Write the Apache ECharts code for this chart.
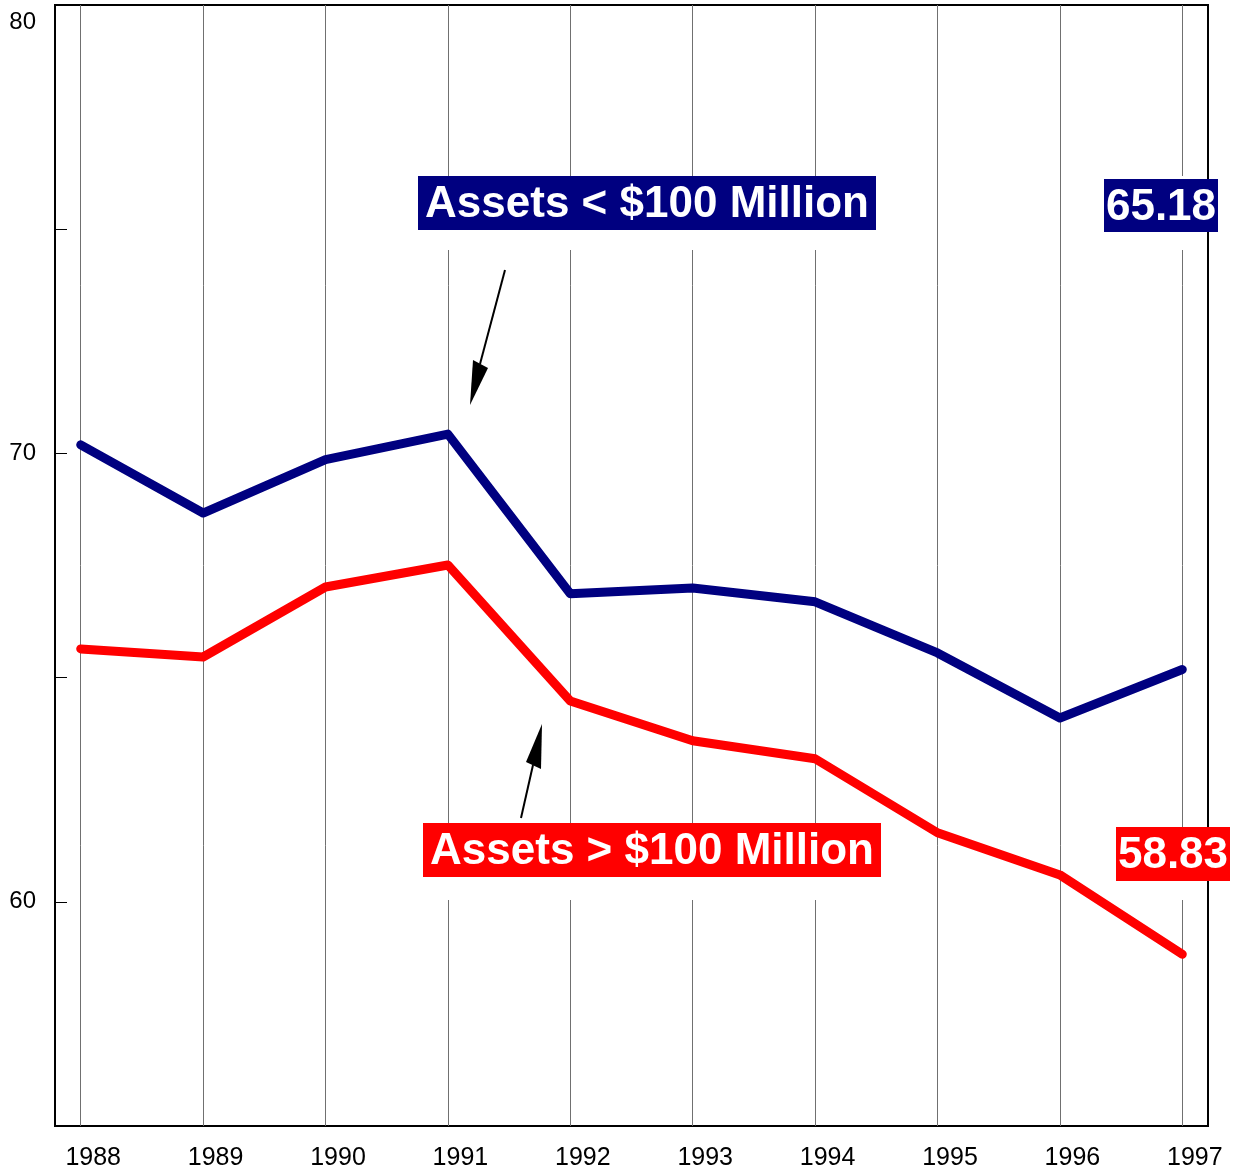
<!DOCTYPE html>
<html>
<head>
<meta charset="utf-8">
<style>
  html, body { margin: 0; padding: 0; background: #fff; }
  #main { width: 1242px; height: 1175px; }
</style>
<script src="https://cdn.jsdelivr.net/npm/echarts@6/dist/echarts.min.js"></script>
</head>
<body>
<div id="main"></div>
<script>
// years on the x axis
var years = [1988, 1989, 1990, 1991, 1992, 1993, 1994, 1995, 1996, 1997];
// assets < $100 million (navy)
var smallBanks = [70.19, 68.67, 69.86, 70.43, 66.87, 67.0, 66.69, 65.55, 64.1, 65.18];
// assets > $100 million (red)
var largeBanks = [65.64, 65.46, 67.02, 67.51, 64.48, 63.59, 63.19, 61.54, 60.6, 58.83];
var yLabels = [60, 70, 80];

var chart = echarts.init(document.getElementById('main'));

function pairs(vals) {
  var out = [];
  for (var i = 0; i < years.length; i++) out.push([years[i], vals[i]]);
  return out;
}

var gridLines = years.map(function (y) { return { xAxis: y }; });

// annotation box: background rect + white bold text
function tag(x, y, w, h, color, text) {
  return {
    type: 'group', x: x, y: y, z: 6,
    children: [
      { type: 'rect', shape: { x: 0, y: 0, width: w, height: h }, style: { fill: color }, z: 6 },
      { type: 'text', x: w / 2, y: h / 2 + 2, z: 7,
        style: { text: text, fill: '#fff', font: 'bold 44px "Liberation Sans", Arial, sans-serif',
                 align: 'center', verticalAlign: 'middle' } }
    ]
  };
}

// white patches that break the vertical lines behind labels
function gap(x, y, w, h) {
  return { type: 'rect', z: 2, shape: { x: x, y: y, width: w, height: h }, style: { fill: '#fff' } };
}

chart.setOption({
  animation: false,
  backgroundColor: '#fff',
  grid: { left: 55, right: 34, top: 5, bottom: 49, show: true, borderColor: '#000', borderWidth: 2 },
  xAxis: {
    type: 'value',
    min: 1987.79, max: 1997.21,
    axisLine: { lineStyle: { color: '#000', width: 2 } },
    axisTick: { show: true, inside: true, length: 25, customValues: years, lineStyle: { color: '#000' } },
    axisLabel: {
      customValues: years,
      margin: 20,
      fontSize: 25,
      color: '#000',
      fontFamily: '"Liberation Sans", Arial, sans-serif',
      padding: [0, 0, 0, 25],
      formatter: function (v) { return String(v); }
    },
    splitLine: { show: false }
  },
  yAxis: {
    type: 'value',
    min: 55, max: 80, interval: 5,
    axisLine: { show: true, lineStyle: { color: '#000', width: 2 } },
    axisTick: { show: true, inside: true, length: 12, lineStyle: { color: '#000' } },
    axisLabel: {
      margin: 19,
      fontSize: 24,
      color: '#000',
      fontFamily: '"Liberation Sans", Arial, sans-serif',
      formatter: function (v) {
        if (yLabels.indexOf(v) < 0) return '';
        return v === 80 ? '{t|80}' : String(v);
      },
      rich: { t: { fontSize: 24, padding: [34, 0, 0, 0], color: '#000' } }
    },
    splitLine: { show: false }
  },
  series: [
    {
      name: 'grid', type: 'line', data: [], z: 1, silent: true,
      markLine: {
        z: 1,
        silent: true, symbol: 'none', label: { show: false },
        lineStyle: { color: '#707070', width: 1, type: 'solid' },
        data: gridLines
      }
    },
    {
      name: 'Assets < $100 Million', type: 'line', z: 3,
      data: pairs(smallBanks), showSymbol: false,
      lineStyle: { color: '#000080', width: 9, cap: 'round', join: 'round' }
    },
    {
      name: 'Assets > $100 Million', type: 'line', z: 3,
      data: pairs(largeBanks), showSymbol: false,
      lineStyle: { color: '#ff0000', width: 9, cap: 'round', join: 'round' }
    }
  ],
  graphic: [
    gap(418, 176, 458, 74),
    gap(1104, 176, 100, 74),
    gap(423, 823, 458, 77),
    gap(1116, 827, 88, 73),
    tag(418, 176, 458, 54, '#000080', 'Assets < $100 Million'),
    tag(1104, 179, 114, 53, '#000080', '65.18'),
    tag(423, 823, 458, 54, '#ff0000', 'Assets > $100 Million'),
    tag(1116, 827, 114, 54, '#ff0000', '58.83'),
    { type: 'line', z: 6, shape: { x1: 505, y1: 270, x2: 480, y2: 364 }, style: { stroke: '#000', lineWidth: 2 } },
    { type: 'polygon', z: 6, shape: { points: [[470, 405], [473, 360], [488, 368]] }, style: { fill: '#000' } },
    { type: 'line', z: 6, shape: { x1: 521, y1: 818, x2: 533, y2: 765 }, style: { stroke: '#000', lineWidth: 2 } },
    { type: 'polygon', z: 6, shape: { points: [[542, 724], [526, 762], [541, 769]] }, style: { fill: '#000' } }
  ]
});
</script>
</body>
</html>
